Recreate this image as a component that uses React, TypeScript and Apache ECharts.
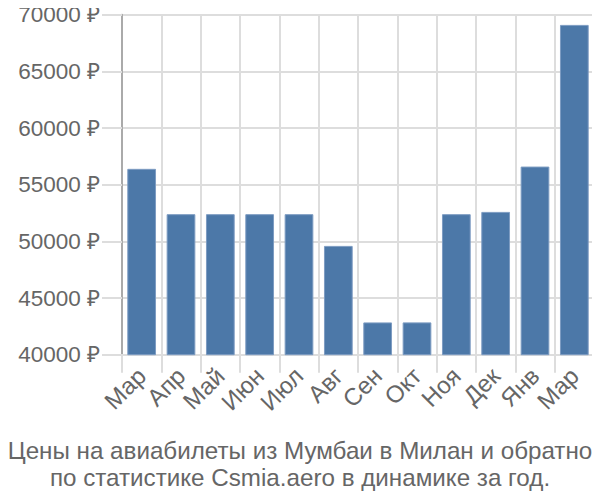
import React, { useEffect, useRef } from "react";
import * as echarts from "echarts";

const categories = ["Мар", "Апр", "Май", "Июн", "Июл", "Авг", "Сен", "Окт", "Ноя", "Дек", "Янв", "Мар"];
const prices = [56400, 52400, 52400, 52400, 52400, 49600, 42850, 42850, 52400, 52600, 56600, 69100];
const yTicks = { min: 40000, max: 70000, interval: 5000 };
const titleLines = [
  "Цены на авиабилеты из Мумбаи в Милан и обратно",
  "по статистике Csmia.aero в динамике за год.",
];

export default function App() {
  const ref = useRef<HTMLDivElement>(null);
  useEffect(() => {
    if (!ref.current) return;
    const chart = echarts.init(ref.current, null, { renderer: "svg" });
    chart.setOption({
      animation: false,
      title: {
        text: titleLines.join("\n"),
        left: "center",
        top: 432,
        textStyle: {
          fontFamily: "Liberation Sans, Arial, sans-serif",
          fontSize: 24.2,
          fontWeight: "normal",
          color: "#666",
          lineHeight: 27,
        },
      },
      grid: { left: 122, right: 6, top: 14.7, bottom: 145.3, containLabel: false },
      xAxis: {
        type: "category",
        data: categories,
        axisLine: { show: true, lineStyle: { color: "#ddd", width: 2 } },
        axisTick: { show: true, interval: 0, length: 18, lineStyle: { color: "#ddd", width: 2 } },
        splitLine: { show: true, interval: 0, lineStyle: { color: "#ddd", width: 2 } },
        axisLabel: {
          interval: 0,
          rotate: 45,
          margin: 17,
          fontSize: 24,
          color: "#666",
          fontFamily: "Liberation Sans, Arial, sans-serif",
        },
      },
      yAxis: {
        type: "value",
        min: yTicks.min,
        max: yTicks.max,
        interval: yTicks.interval,
        axisLine: { show: true, lineStyle: { color: "#aaa", width: 2 } },
        axisTick: { show: true, length: 20, lineStyle: { color: "#ddd", width: 2 } },
        splitLine: { show: true, lineStyle: { color: "#ddd", width: 2 } },
        axisLabel: {
          margin: 22,
          fontSize: 22.5,
          color: "#666",
          fontFamily: "Liberation Sans, Arial, sans-serif",
          formatter: (v: number) => `${v} ₽`,
        },
      },
      series: [
        {
          type: "bar",
          data: prices,
          barCategoryGap: "27%",
          itemStyle: { color: "#4c78a8", borderColor: "#7d9cc2", borderWidth: 1 },
        },
      ],
    });
    return () => chart.dispose();
  }, []);
  return <div ref={ref} style={{ width: 600, height: 500, margin: -8 }} />;
}
